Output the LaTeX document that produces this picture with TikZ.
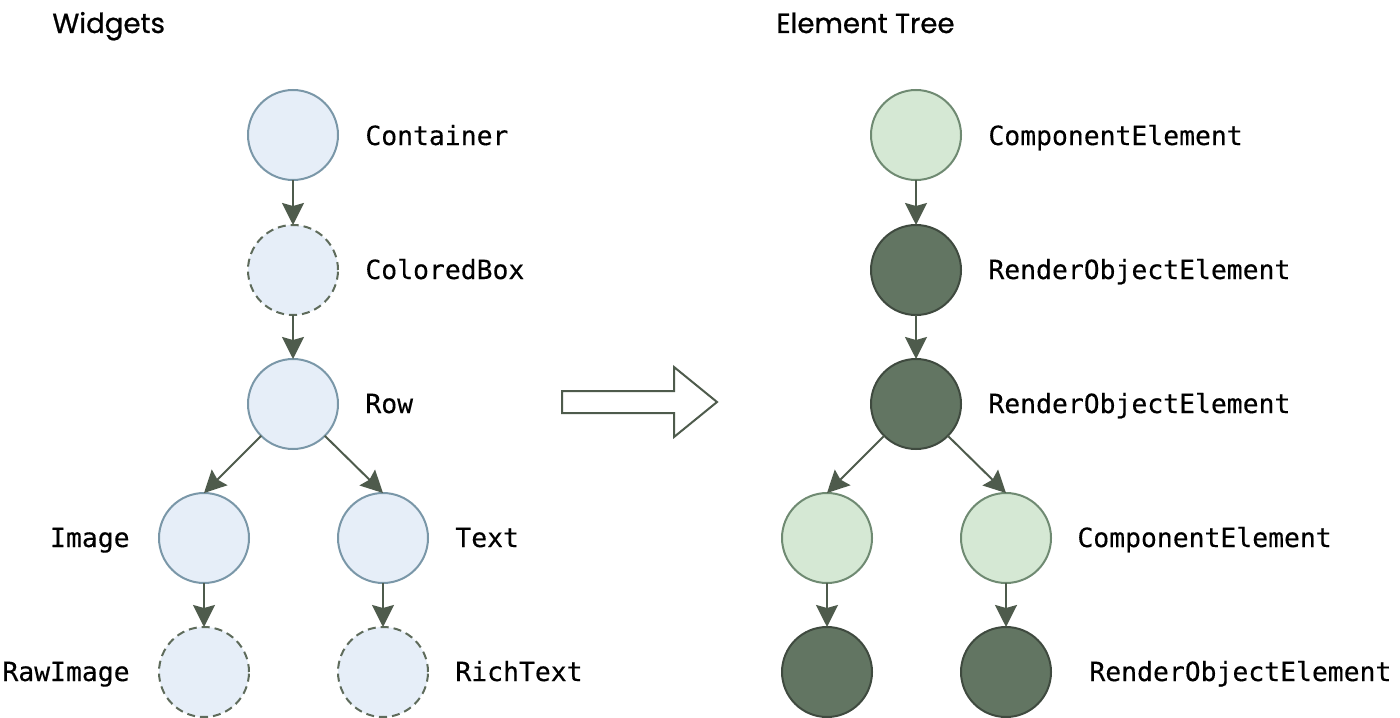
\documentclass[tikz,border=0pt]{standalone}
\usepackage{fontspec}
\newfontfamily\monofont{DejaVu Sans Mono}[FakeBold=0.3]
\newfontfamily\titlefont{Poppins}[FakeBold=0.8]
\usetikzlibrary{arrows.meta}
\definecolor{bluefill}{HTML}{E6EEF8}
\definecolor{blueline}{HTML}{7A97A8}
\definecolor{dashline}{HTML}{5E6B5B}
\definecolor{greenfill}{HTML}{D5E8D4}
\definecolor{greenline}{HTML}{6F8A72}
\definecolor{darkfill}{HTML}{627562}
\definecolor{darkline}{HTML}{3F4A3F}
\definecolor{conncol}{HTML}{4E5B4C}
\begin{document}
\begin{tikzpicture}[x=0.5pt,y=-0.5pt,
  base/.style={circle,minimum size=45pt,inner sep=0pt,outer sep=0pt,line width=1pt},
  wcirc/.style={base,fill=bluefill,draw=blueline},
  wdash/.style={base,fill=bluefill,draw=dashline,dash pattern=on 4pt off 2.5pt},
  gcirc/.style={base,fill=greenfill,draw=greenline},
  dcirc/.style={base,fill=darkfill,draw=darkline},
  lbl/.style={font=\monofont\fontsize{13.2}{15}\selectfont,inner sep=0pt,text=black},
  ttl/.style={font=\titlefont\fontsize{13.8}{17}\selectfont,inner sep=0pt,anchor=base west,text=black},
  conn/.style={draw=conncol,line width=1pt,-{Stealth[length=11pt,width=11pt,inset=1.5pt]}},
  bigarrow/.style={draw=conncol,line width=1pt,fill=white,line join=miter}
]
\useasboundingbox (0,0) rectangle (1400,717);

% titles
\node[ttl] (twidgets) at (52,33) {Widgets};
\node[ttl] (telement) at (776,33) {Element Tree};

% widget tree
\node[wcirc] (container) at (293,135) {};
\node[wdash] (colored) at (293,270) {};
\node[wcirc] (row) at (293,404) {};
\node[wcirc] (image) at (204,538) {};
\node[wcirc] (text) at (383,538) {};
\node[wdash] (rawimage) at (204,672) {};
\node[wdash] (richtext) at (383,672) {};

\node[lbl,anchor=base west] (lcontainer) at (365,145) {Container};
\node[lbl,anchor=base west] (lcolored) at (365,279) {ColoredBox};
\node[lbl,anchor=base west] (lrow) at (365,413) {Row};
\node[lbl,anchor=base east] (limage) at (130,547) {Image};
\node[lbl,anchor=base west] (ltext) at (455,547) {Text};
\node[lbl,anchor=base east] (lrawimage) at (130,681) {RawImage};
\node[lbl,anchor=base west] (lrichtext) at (455,681) {RichText};

\draw[conn] (container) -- (colored);
\draw[conn] (colored) -- (row);
\draw[conn] (row.225) -- (image.north);
\draw[conn] (row.-45) -- (text.north);
\draw[conn] (image) -- (rawimage);
\draw[conn] (text) -- (richtext);

% big arrow
\draw[bigarrow] (562,391) -- (674,391) -- (674,367) -- (717,402) -- (674,437) -- (674,413) -- (562,413) -- cycle;

% element tree
\node[gcirc] (e1) at (916,135) {};
\node[dcirc] (e2) at (916,270) {};
\node[dcirc] (e3) at (916,404) {};
\node[gcirc] (e4) at (827,538) {};
\node[gcirc] (e5) at (1006,538) {};
\node[dcirc] (e6) at (827,672) {};
\node[dcirc] (e7) at (1006,672) {};

\node[lbl,anchor=base west] (le1) at (988,145) {ComponentElement};
\node[lbl,anchor=base west] (le2) at (988,279) {RenderObjectElement};
\node[lbl,anchor=base west] (le3) at (988,413) {RenderObjectElement};
\node[lbl,anchor=base west] (le5) at (1077,547) {ComponentElement};
\node[lbl,anchor=base west] (le7) at (1089,681) {RenderObjectElement};

\draw[conn] (e1) -- (e2);
\draw[conn] (e2) -- (e3);
\draw[conn] (e3.225) -- (e4.north);
\draw[conn] (e3.-45) -- (e5.north);
\draw[conn] (e4) -- (e6);
\draw[conn] (e5) -- (e7);
\end{tikzpicture}
\end{document}
